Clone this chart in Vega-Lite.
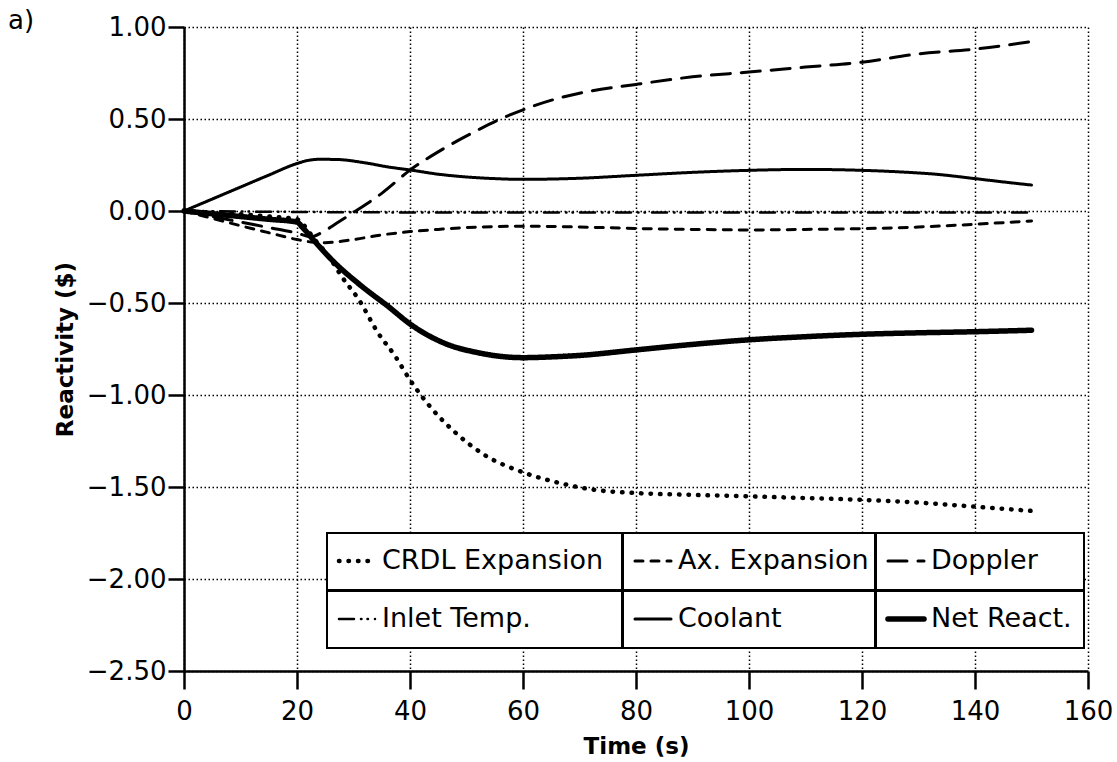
{
  "$schema": "https://vega.github.io/schema/vega-lite/v6.json",
  "width": 904,
  "height": 644,
  "autosize": {"type": "none"},
  "padding": {"left": 184, "top": 27, "right": 29, "bottom": 91},
  "background": "white",
  "title": {
    "text": "a)",
    "anchor": "start",
    "frame": "group",
    "dx": -176,
    "dy": 24,
    "font": "DejaVu Sans",
    "fontSize": 26,
    "fontWeight": "normal",
    "color": "black"
  },
  "data": {
    "values": [
      {"t": 0, "s": "CRDL Expansion", "v": 0},
      {"t": 5, "s": "CRDL Expansion", "v": -0.008},
      {"t": 10, "s": "CRDL Expansion", "v": -0.018},
      {"t": 15, "s": "CRDL Expansion", "v": -0.03},
      {"t": 20, "s": "CRDL Expansion", "v": -0.045},
      {"t": 21, "s": "CRDL Expansion", "v": -0.07},
      {"t": 23, "s": "CRDL Expansion", "v": -0.15},
      {"t": 25.7, "s": "CRDL Expansion", "v": -0.25},
      {"t": 28, "s": "CRDL Expansion", "v": -0.36},
      {"t": 30.9, "s": "CRDL Expansion", "v": -0.48},
      {"t": 34.4, "s": "CRDL Expansion", "v": -0.665},
      {"t": 37.4, "s": "CRDL Expansion", "v": -0.79},
      {"t": 40, "s": "CRDL Expansion", "v": -0.918},
      {"t": 43.8, "s": "CRDL Expansion", "v": -1.072},
      {"t": 48.5, "s": "CRDL Expansion", "v": -1.217},
      {"t": 53.2, "s": "CRDL Expansion", "v": -1.326},
      {"t": 60, "s": "CRDL Expansion", "v": -1.42},
      {"t": 66.7, "s": "CRDL Expansion", "v": -1.48},
      {"t": 72.6, "s": "CRDL Expansion", "v": -1.515},
      {"t": 80, "s": "CRDL Expansion", "v": -1.533},
      {"t": 90, "s": "CRDL Expansion", "v": -1.543},
      {"t": 100, "s": "CRDL Expansion", "v": -1.551},
      {"t": 110, "s": "CRDL Expansion", "v": -1.56},
      {"t": 120, "s": "CRDL Expansion", "v": -1.57},
      {"t": 130, "s": "CRDL Expansion", "v": -1.585},
      {"t": 140, "s": "CRDL Expansion", "v": -1.607},
      {"t": 150, "s": "CRDL Expansion", "v": -1.63},

      {"t": 0, "s": "Ax. Expansion", "v": 0},
      {"t": 5, "s": "Ax. Expansion", "v": -0.04},
      {"t": 10, "s": "Ax. Expansion", "v": -0.08},
      {"t": 15, "s": "Ax. Expansion", "v": -0.118},
      {"t": 20, "s": "Ax. Expansion", "v": -0.155},
      {"t": 23, "s": "Ax. Expansion", "v": -0.17},
      {"t": 25, "s": "Ax. Expansion", "v": -0.172},
      {"t": 30, "s": "Ax. Expansion", "v": -0.155},
      {"t": 35, "s": "Ax. Expansion", "v": -0.13},
      {"t": 40, "s": "Ax. Expansion", "v": -0.112},
      {"t": 45, "s": "Ax. Expansion", "v": -0.1},
      {"t": 50, "s": "Ax. Expansion", "v": -0.09},
      {"t": 60, "s": "Ax. Expansion", "v": -0.083},
      {"t": 70, "s": "Ax. Expansion", "v": -0.087},
      {"t": 80, "s": "Ax. Expansion", "v": -0.095},
      {"t": 90, "s": "Ax. Expansion", "v": -0.1},
      {"t": 100, "s": "Ax. Expansion", "v": -0.103},
      {"t": 110, "s": "Ax. Expansion", "v": -0.1},
      {"t": 120, "s": "Ax. Expansion", "v": -0.096},
      {"t": 130, "s": "Ax. Expansion", "v": -0.087},
      {"t": 140, "s": "Ax. Expansion", "v": -0.072},
      {"t": 150, "s": "Ax. Expansion", "v": -0.054},

      {"t": 0, "s": "Doppler", "v": 0},
      {"t": 5, "s": "Doppler", "v": -0.03},
      {"t": 10, "s": "Doppler", "v": -0.06},
      {"t": 15, "s": "Doppler", "v": -0.09},
      {"t": 20, "s": "Doppler", "v": -0.12},
      {"t": 22.5, "s": "Doppler", "v": -0.14},
      {"t": 24.5, "s": "Doppler", "v": -0.115},
      {"t": 27, "s": "Doppler", "v": -0.067},
      {"t": 30, "s": "Doppler", "v": -0.008},
      {"t": 35, "s": "Doppler", "v": 0.096},
      {"t": 40, "s": "Doppler", "v": 0.222},
      {"t": 46, "s": "Doppler", "v": 0.34},
      {"t": 52, "s": "Doppler", "v": 0.44},
      {"t": 56, "s": "Doppler", "v": 0.5},
      {"t": 60, "s": "Doppler", "v": 0.55},
      {"t": 65.6, "s": "Doppler", "v": 0.607},
      {"t": 70, "s": "Doppler", "v": 0.64},
      {"t": 80, "s": "Doppler", "v": 0.688},
      {"t": 90, "s": "Doppler", "v": 0.729},
      {"t": 100, "s": "Doppler", "v": 0.755},
      {"t": 110, "s": "Doppler", "v": 0.782},
      {"t": 120, "s": "Doppler", "v": 0.809},
      {"t": 130, "s": "Doppler", "v": 0.854},
      {"t": 140, "s": "Doppler", "v": 0.88},
      {"t": 150, "s": "Doppler", "v": 0.921},

      {"t": 0, "s": "Inlet Temp.", "v": 0},
      {"t": 10, "s": "Inlet Temp.", "v": -0.003},
      {"t": 20, "s": "Inlet Temp.", "v": -0.005},
      {"t": 30, "s": "Inlet Temp.", "v": -0.007},
      {"t": 50, "s": "Inlet Temp.", "v": -0.008},
      {"t": 70, "s": "Inlet Temp.", "v": -0.008},
      {"t": 90, "s": "Inlet Temp.", "v": -0.008},
      {"t": 110, "s": "Inlet Temp.", "v": -0.008},
      {"t": 130, "s": "Inlet Temp.", "v": -0.008},
      {"t": 150, "s": "Inlet Temp.", "v": -0.008},

      {"t": 0, "s": "Coolant", "v": 0},
      {"t": 5, "s": "Coolant", "v": 0.065},
      {"t": 10, "s": "Coolant", "v": 0.13},
      {"t": 15, "s": "Coolant", "v": 0.195},
      {"t": 20, "s": "Coolant", "v": 0.258},
      {"t": 22, "s": "Coolant", "v": 0.275},
      {"t": 24, "s": "Coolant", "v": 0.281},
      {"t": 27, "s": "Coolant", "v": 0.28},
      {"t": 32, "s": "Coolant", "v": 0.262},
      {"t": 36, "s": "Coolant", "v": 0.24},
      {"t": 40, "s": "Coolant", "v": 0.223},
      {"t": 45, "s": "Coolant", "v": 0.2},
      {"t": 50, "s": "Coolant", "v": 0.185},
      {"t": 55, "s": "Coolant", "v": 0.176},
      {"t": 60, "s": "Coolant", "v": 0.172},
      {"t": 70, "s": "Coolant", "v": 0.178},
      {"t": 80, "s": "Coolant", "v": 0.194},
      {"t": 90, "s": "Coolant", "v": 0.21},
      {"t": 100, "s": "Coolant", "v": 0.221},
      {"t": 110, "s": "Coolant", "v": 0.226},
      {"t": 120, "s": "Coolant", "v": 0.221},
      {"t": 127, "s": "Coolant", "v": 0.212},
      {"t": 133, "s": "Coolant", "v": 0.2},
      {"t": 140, "s": "Coolant", "v": 0.176},
      {"t": 145, "s": "Coolant", "v": 0.158},
      {"t": 150, "s": "Coolant", "v": 0.141},

      {"t": 0, "s": "Net React.", "v": 0},
      {"t": 5, "s": "Net React.", "v": -0.015},
      {"t": 10, "s": "Net React.", "v": -0.03},
      {"t": 15, "s": "Net React.", "v": -0.045},
      {"t": 20, "s": "Net React.", "v": -0.06},
      {"t": 21, "s": "Net React.", "v": -0.09},
      {"t": 22.7, "s": "Net React.", "v": -0.15},
      {"t": 26.3, "s": "Net React.", "v": -0.27},
      {"t": 31.5, "s": "Net React.", "v": -0.41},
      {"t": 36.2, "s": "Net React.", "v": -0.52},
      {"t": 40, "s": "Net React.", "v": -0.614},
      {"t": 46.2, "s": "Net React.", "v": -0.72},
      {"t": 52, "s": "Net React.", "v": -0.77},
      {"t": 60, "s": "Net React.", "v": -0.797},
      {"t": 65.7, "s": "Net React.", "v": -0.792},
      {"t": 70, "s": "Net React.", "v": -0.785},
      {"t": 80, "s": "Net React.", "v": -0.755},
      {"t": 90, "s": "Net React.", "v": -0.725},
      {"t": 100, "s": "Net React.", "v": -0.7},
      {"t": 110, "s": "Net React.", "v": -0.683},
      {"t": 120, "s": "Net React.", "v": -0.67},
      {"t": 130, "s": "Net React.", "v": -0.662},
      {"t": 140, "s": "Net React.", "v": -0.656},
      {"t": 150, "s": "Net React.", "v": -0.648}
    ]
  },
  "mark": {
    "type": "line",
    "color": "black",
    "strokeCap": "round",
    "interpolate": "monotone"
  },
  "encoding": {
    "x": {
      "field": "t",
      "type": "quantitative",
      "title": "Time (s)",
      "scale": {"domain": [0, 160], "nice": false, "zero": false},
      "axis": {"values": [0, 20, 40, 60, 80, 100, 120, 140, 160], "labelFlush": false}
    },
    "y": {
      "field": "v",
      "type": "quantitative",
      "title": "Reactivity ($)",
      "scale": {"domain": [-2.5, 1], "nice": false, "zero": false},
      "axis": {"values": [-2.5, -2, -1.5, -1, -0.5, 0, 0.5, 1], "format": ".2f"}
    },
    "detail": {"field": "s"},
    "strokeDash": {
      "field": "s",
      "type": "nominal",
      "scale": {
        "domain": ["CRDL Expansion", "Ax. Expansion", "Doppler", "Inlet Temp.", "Coolant", "Net React."],
        "range": [[0.5, 9], [8, 8], [19, 11], [15, 7, 0.5, 6, 0.5, 7], [1, 0], [1, 0]]
      },
      "legend": {
        "orient": "none",
        "legendX": 143,
        "legendY": 506,
        "direction": "horizontal",
        "columns": 3,
        "title": null,
        "padding": 0,
        "fillColor": "white",
        "columnPadding": 0,
        "rowPadding": 0,
        "gridAlign": "each",
        "clipHeight": 56,
        "symbolType": "stroke",
        "symbolSize": 1300,
        "symbolStrokeColor": "black",
        "symbolOffset": 9,
        "labelOffset": 4,
        "labelFont": "DejaVu Sans",
        "labelFontSize": 27,
        "labelColor": "black",
        "labelLimit": 0,
        "encode": {
          "entries": {
            "update": {
              "stroke": {"value": "black"},
              "strokeWidth": {"value": 2},
              "fill": {"value": "white"},
              "width": {"signal": "datum.index % 3 == 0 ? 294 : (datum.index % 3 == 1 ? 251 : 207)"},
              "height": {"value": 56}
            }
          },
          "symbols": {"update": {"strokeCap": {"value": "round"}}}
        }
      }
    },
    "strokeWidth": {
      "field": "s",
      "type": "nominal",
      "scale": {
        "type": "ordinal",
        "domain": ["CRDL Expansion", "Ax. Expansion", "Doppler", "Inlet Temp.", "Coolant", "Net React."],
        "range": [4.5, 3, 3, 2.5, 3, 5.5]
      }
    }
  },
  "config": {
    "view": {"stroke": null},
    "axis": {
      "domainColor": "black",
      "domainWidth": 2.5,
      "tickColor": "black",
      "tickWidth": 2.5,
      "labelFont": "DejaVu Sans",
      "labelFontSize": 26,
      "labelColor": "black",
      "grid": true,
      "gridColor": "black",
      "gridDash": [1.5, 2.5],
      "gridWidth": 1.5,
      "gridOpacity": 1,
      "titleFont": "DejaVu Sans",
      "titleFontSize": 23,
      "titleFontWeight": "bold",
      "titleColor": "black"
    },
    "axisX": {"tickSize": 18, "labelPadding": 9, "titlePadding": 11},
    "axisY": {"tickSize": 16, "labelPadding": 2, "titlePadding": 9}
  }
}
